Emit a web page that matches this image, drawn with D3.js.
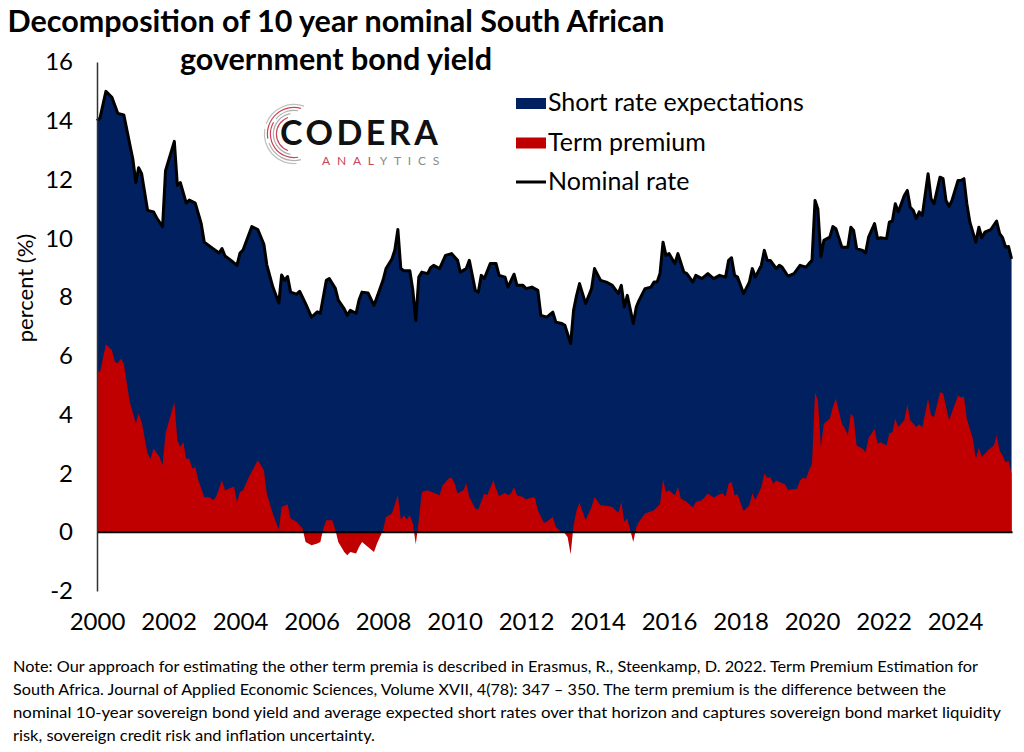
<!DOCTYPE html>
<html>
<head>
<meta charset="utf-8">
<script src="https://cdn.jsdelivr.net/npm/d3@7"></script>
<style>
  body { margin: 0; background: #fff; }
  svg { display: block; font-family: Lato, "Open Sans", sans-serif; }
</style>
</head>
<body>
<svg id="chart" width="1024" height="752"></svg>
<script>
// values (percent)
var yTicks = [-2, 0, 2, 4, 6, 8, 10, 12, 14, 16];
var yearTicks = [2000, 2002, 2004, 2006, 2008, 2010, 2012, 2014, 2016, 2018, 2020, 2022, 2024];
var legendLabels = ['Short rate expectations', 'Term premium', 'Nominal rate'];
var titleLines = ['Decomposition of 10 year nominal South African', 'government bond yield'];
var noteLines = [
  'Note: Our approach for estimating the other term premia is described in Erasmus, R., Steenkamp, D. 2022. Term Premium Estimation for',
  'South Africa. Journal of Applied Economic Sciences, Volume XVII, 4(78): 347 \u2013 350. The term premium is the difference between the',
  'nominal 10-year sovereign bond yield and average expected short rates over that horizon and captures sovereign bond market liquidity',
  'risk, sovereign credit risk and inflation uncertainty.'
];

// nominal 10 year yield
var nominal = [
  ['2000-01', 14.0], ['2000-02', 14.1], ['2000-04', 15.0], ['2000-06', 14.8], ['2000-08', 14.25], ['2000-10', 14.2],
  ['2000-12', 13.2], ['2001-01', 12.7], ['2001-02', 11.9], ['2001-03', 12.4], ['2001-04', 12.2], ['2001-06', 10.95],
  ['2001-08', 10.9], ['2001-09', 10.7], ['2001-11', 10.4], ['2001-12', 12.3], ['2002-03', 13.3], ['2002-04', 11.8],
  ['2002-05', 11.9], ['2002-07', 11.2], ['2002-08', 11.3], ['2002-10', 11.2], ['2002-12', 10.5], ['2003-01', 9.87],
  ['2003-04', 9.65], ['2003-06', 9.5], ['2003-07', 9.65], ['2003-08', 9.4], ['2003-10', 9.25], ['2003-12', 9.08],
  ['2004-01', 9.5], ['2004-02', 9.6], ['2004-05', 10.4], ['2004-07', 10.3], ['2004-09', 9.8], ['2004-10', 9.1],
  ['2004-12', 8.35], ['2005-02', 7.8], ['2005-03', 8.75], ['2005-04', 8.57], ['2005-05', 8.7], ['2005-06', 8.17],
  ['2005-08', 8.1], ['2005-09', 8.2], ['2005-11', 7.78], ['2006-01', 7.32], ['2006-03', 7.5], ['2006-04', 7.45],
  ['2006-06', 8.57], ['2006-07', 8.63], ['2006-09', 8.3], ['2006-10', 7.9], ['2006-12', 7.6], ['2007-01', 7.38],
  ['2007-02', 7.55], ['2007-04', 7.45], ['2007-05', 7.9], ['2007-06', 8.17], ['2007-08', 8.14], ['2007-10', 7.72],
  ['2007-11', 8.0], ['2008-01', 8.57], ['2008-02', 8.97], ['2008-04', 9.3], ['2008-05', 9.6], ['2008-06', 10.3],
  ['2008-07', 8.97], ['2008-08', 8.9], ['2008-10', 8.9], ['2008-11', 8.23], ['2008-12', 7.2], ['2009-01', 8.68],
  ['2009-02', 8.85], ['2009-04', 8.8], ['2009-05', 9.0], ['2009-06', 9.08], ['2009-08', 8.97], ['2009-10', 9.42],
  ['2009-12', 9.48], ['2010-02', 9.25], ['2010-03', 8.85], ['2010-05', 8.97], ['2010-06', 9.25], ['2010-08', 8.23],
  ['2010-09', 8.17], ['2010-10', 8.74], ['2010-11', 8.63], ['2011-01', 9.14], ['2011-03', 9.14], ['2011-04', 8.74],
  ['2011-06', 8.68], ['2011-07', 8.34], ['2011-09', 8.78], ['2011-10', 8.4], ['2011-12', 8.4], ['2012-01', 8.29],
  ['2012-03', 8.34], ['2012-05', 8.23], ['2012-06', 7.38], ['2012-08', 7.32], ['2012-10', 7.49], ['2012-11', 7.15],
  ['2013-01', 7.1], ['2013-02', 7.04], ['2013-04', 6.42], ['2013-05', 7.55], ['2013-06', 8.06], ['2013-07', 8.46],
  ['2013-09', 7.78], ['2013-11', 8.29], ['2013-12', 8.97], ['2014-02', 8.57], ['2014-04', 8.51], ['2014-06', 8.4],
  ['2014-08', 8.12], ['2014-09', 8.4], ['2014-10', 7.66], ['2014-11', 8.06], ['2015-01', 7.1], ['2015-02', 7.66],
  ['2015-03', 7.89], ['2015-05', 8.29], ['2015-07', 8.34], ['2015-08', 8.51], ['2015-09', 8.51], ['2015-10', 8.8],
  ['2015-11', 9.87], ['2015-12', 9.42], ['2016-01', 9.48], ['2016-03', 9.14], ['2016-04', 9.48], ['2016-06', 8.85],
  ['2016-07', 8.8], ['2016-09', 8.51], ['2016-10', 8.74], ['2016-12', 8.63], ['2017-02', 8.8], ['2017-04', 8.63],
  ['2017-06', 8.74], ['2017-08', 8.68], ['2017-09', 9.25], ['2017-10', 9.34], ['2017-11', 8.74], ['2017-12', 8.68],
  ['2018-02', 8.12], ['2018-04', 8.51], ['2018-05', 8.97], ['2018-06', 8.68], ['2018-08', 9.08], ['2018-09', 9.59],
  ['2018-10', 9.25], ['2018-11', 9.25], ['2019-01', 8.97], ['2019-02', 9.08], ['2019-03', 9.02], ['2019-05', 8.71],
  ['2019-07', 8.8], ['2019-09', 9.08], ['2019-11', 9.02], ['2019-12', 9.14], ['2020-01', 9.25], ['2020-02', 11.29],
  ['2020-03', 11.0], ['2020-04', 9.37], ['2020-05', 9.93], ['2020-07', 10.04], ['2020-08', 10.4], ['2020-09', 10.33],
  ['2020-11', 9.7], ['2021-01', 9.7], ['2021-02', 10.38], ['2021-03', 10.27], ['2021-04', 9.65], ['2021-06', 9.59],
  ['2021-07', 9.5], ['2021-08', 10.04], ['2021-10', 10.5], ['2021-11', 9.99], ['2021-12', 10.02], ['2022-02', 9.99],
  ['2022-03', 10.55], ['2022-04', 10.59], ['2022-05', 11.18], ['2022-06', 10.9], ['2022-08', 11.46], ['2022-09', 11.63],
  ['2022-10', 11.06], ['2022-11', 10.95], ['2022-12', 10.67], ['2023-01', 10.9], ['2023-02', 10.78], ['2023-04', 12.2],
  ['2023-05', 11.35], ['2023-06', 11.18], ['2023-08', 12.08], ['2023-09', 12.03], ['2023-10', 11.29], ['2023-11', 11.09],
  ['2023-12', 11.29], ['2024-02', 11.97], ['2024-03', 11.97], ['2024-04', 12.03], ['2024-05', 11.18], ['2024-06', 10.55],
  ['2024-08', 9.87], ['2024-09', 10.38], ['2024-10', 10.02], ['2024-11', 10.21], ['2025-01', 10.3], ['2025-03', 10.59],
  ['2025-04', 10.16], ['2025-05', 10.02], ['2025-06', 9.7], ['2025-07', 9.72], ['2025-08', 9.3]
];

// term premium
var termPremium = [
  ['2000-01', 5.5], ['2000-02', 5.45], ['2000-04', 6.4], ['2000-05', 6.3], ['2000-06', 6.2], ['2000-07', 5.8],
  ['2000-08', 5.75], ['2000-09', 5.9], ['2000-10', 5.74], ['2000-11', 5.06], ['2000-12', 4.43], ['2001-02', 3.7],
  ['2001-03', 4.04], ['2001-04', 3.75], ['2001-06', 2.68], ['2001-07', 2.5], ['2001-08', 2.85], ['2001-10', 2.56],
  ['2001-11', 2.28], ['2001-12', 3.36], ['2002-03', 4.43], ['2002-04', 3.13], ['2002-05', 2.9], ['2002-06', 3.07],
  ['2002-07', 2.5], ['2002-08', 2.5], ['2002-09', 2.17], ['2002-10', 2.22], ['2002-11', 1.77], ['2003-01', 1.2],
  ['2003-03', 1.18], ['2003-04', 1.09], ['2003-05', 1.2], ['2003-07', 1.77], ['2003-08', 1.43], ['2003-11', 1.56],
  ['2003-12', 1.03], ['2004-01', 1.37], ['2004-02', 1.43], ['2004-04', 1.88], ['2004-07', 2.45], ['2004-09', 2.11],
  ['2004-10', 1.32], ['2004-12', 0.64], ['2005-02', 0.08], ['2005-03', 0.86], ['2005-05', 0.95], ['2005-06', 0.47],
  ['2005-08', 0.36], ['2005-10', 0.13], ['2005-11', -0.33], ['2006-01', -0.44], ['2006-03', -0.38], ['2006-04', -0.33],
  ['2006-05', 0.13], ['2006-06', 0.41], ['2006-08', 0.41], ['2006-09', 0.08], ['2006-10', -0.33], ['2006-12', -0.67],
  ['2007-01', -0.78], ['2007-02', -0.67], ['2007-04', -0.72], ['2007-05', -0.5], ['2007-06', -0.33], ['2007-08', -0.5],
  ['2007-10', -0.67], ['2007-11', -0.38], ['2008-01', 0.07], ['2008-02', 0.52], ['2008-04', 0.64], ['2008-06', 1.26],
  ['2008-07', 0.43], ['2008-08', 0.58], ['2008-09', 0.43], ['2008-10', 0.58], ['2008-11', 0.3], ['2008-12', -0.41],
  ['2009-01', 0.41], ['2009-02', 1.37], ['2009-04', 1.43], ['2009-06', 1.34], ['2009-08', 1.26], ['2009-09', 1.6],
  ['2009-11', 1.83], ['2009-12', 1.86], ['2010-01', 1.66], ['2010-02', 1.32], ['2010-04', 1.43], ['2010-05', 1.66],
  ['2010-06', 1.2], ['2010-08', 0.81], ['2010-09', 0.77], ['2010-11', 1.32], ['2010-12', 1.26], ['2011-02', 1.77],
  ['2011-03', 1.49], ['2011-04', 1.22], ['2011-06', 1.34], ['2011-07', 1.26], ['2011-08', 1.32], ['2011-09', 1.54],
  ['2011-10', 1.26], ['2011-12', 1.2], ['2012-01', 1.11], ['2012-03', 1.18], ['2012-04', 1.18], ['2012-05', 0.75],
  ['2012-07', 0.32], ['2012-08', 0.36], ['2012-10', 0.53], ['2012-11', 0.18], ['2012-12', 0.08], ['2013-02', -0.04],
  ['2013-03', -0.16], ['2013-04', -0.75], ['2013-05', 0.24], ['2013-06', 0.75], ['2013-07', 1.0], ['2013-09', 0.41],
  ['2013-11', 0.86], ['2013-12', 1.2], ['2014-02', 0.92], ['2014-04', 0.9], ['2014-06', 0.86], ['2014-08', 0.66],
  ['2014-09', 1.03], ['2014-10', 0.36], ['2014-11', 0.47], ['2015-01', -0.33], ['2015-02', 0.18], ['2015-03', 0.36],
  ['2015-05', 0.64], ['2015-08', 0.75], ['2015-10', 0.95], ['2015-11', 1.79], ['2015-12', 1.37], ['2016-01', 1.43],
  ['2016-03', 1.26], ['2016-04', 1.54], ['2016-05', 1.15], ['2016-07', 1.03], ['2016-09', 0.84], ['2016-10', 1.03],
  ['2016-12', 1.09], ['2017-02', 1.32], ['2017-04', 1.18], ['2017-06', 1.29], ['2017-07', 1.33], ['2017-08', 1.2],
  ['2017-09', 1.65], ['2017-10', 1.72], ['2017-11', 1.25], ['2017-12', 1.29], ['2018-02', 0.72], ['2018-04', 0.91],
  ['2018-05', 1.33], ['2018-06', 1.1], ['2018-08', 1.53], ['2018-09', 2.0], ['2018-10', 1.85], ['2018-11', 1.87],
  ['2018-12', 1.65], ['2019-01', 1.76], ['2019-04', 1.62], ['2019-05', 1.44], ['2019-08', 1.48], ['2019-09', 1.76],
  ['2019-10', 1.85], ['2019-11', 1.82], ['2019-12', 2.1], ['2020-01', 2.33], ['2020-02', 4.76], ['2020-03', 4.48],
  ['2020-04', 2.89], ['2020-05', 3.69], ['2020-07', 3.86], ['2020-08', 4.26], ['2020-09', 4.54], ['2020-11', 3.69],
  ['2020-12', 3.55], ['2021-01', 3.29], ['2021-02', 4.03], ['2021-03', 3.91], ['2021-04', 2.95], ['2021-06', 2.84],
  ['2021-07', 2.72], ['2021-08', 3.21], ['2021-10', 3.52], ['2021-11', 3.01], ['2021-12', 3.06], ['2022-02', 2.95],
  ['2022-03', 3.37], ['2022-04', 3.4], ['2022-05', 3.86], ['2022-06', 3.58], ['2022-08', 3.81], ['2022-09', 4.35],
  ['2022-10', 3.81], ['2022-12', 3.58], ['2023-01', 3.67], ['2023-02', 3.56], ['2023-04', 4.54], ['2023-05', 3.97],
  ['2023-06', 3.92], ['2023-08', 4.76], ['2023-09', 4.73], ['2023-11', 3.82], ['2023-12', 4.08], ['2024-02', 4.65],
  ['2024-03', 4.58], ['2024-04', 4.62], ['2024-05', 3.86], ['2024-07', 3.18], ['2024-08', 2.5], ['2024-09', 2.87],
  ['2024-10', 2.56], ['2024-12', 2.78], ['2025-02', 2.95], ['2025-03', 3.29], ['2025-04', 2.78], ['2025-05', 2.61],
  ['2025-06', 2.38], ['2025-07', 2.42], ['2025-08', 1.99]
];

var colors = {shortRate: '#002060', termPremium: '#c00000', nominal: '#000000'};

var svg = d3.select('#chart');
var parseMonth = d3.timeParse('%Y-%m');

var x = d3.scaleTime()
    .domain([new Date(2000, 0, 1), new Date(2024, 0, 1)])
    .range([97, 955]);
var y = d3.scaleLinear().domain([-2, 16]).range([591, 62]);

// Title
svg.append('g').selectAll('text')
  .data(titleLines)
  .enter().append('text')
  .attr('x', 336)
  .attr('y', function (d, i) { return 32 + i * 38; })
  .attr('text-anchor', 'middle')
  .style('font-size', '30.5px')
  .style('font-weight', 'bold')
  .text(function (d) { return d; });

// Areas: short rate expectations fill up to the nominal rate, term premium on top from zero
var area = d3.area()
    .x(function (d) { return x(parseMonth(d[0])); })
    .y0(y(0))
    .y1(function (d) { return y(d[1]); });

svg.append('path')
  .datum(nominal)
  .attr('fill', colors.shortRate)
  .attr('d', area);

svg.append('path')
  .datum(termPremium)
  .attr('fill', colors.termPremium)
  .attr('d', area);

// Nominal rate line
var line = d3.line()
    .x(function (d) { return x(parseMonth(d[0])); })
    .y(function (d) { return y(d[1]); });

svg.append('path')
  .datum(nominal)
  .attr('fill', 'none')
  .attr('stroke', colors.nominal)
  .attr('stroke-width', 3)
  .attr('stroke-linejoin', 'round')
  .attr('d', line);

// Zero line
var lastDate = parseMonth(nominal[nominal.length - 1][0]);
svg.append('line')
  .attr('x1', x(new Date(2000, 0, 1)))
  .attr('x2', x(lastDate) + 1)
  .attr('y1', y(0))
  .attr('y2', y(0))
  .attr('stroke', '#000')
  .attr('stroke-width', 2);

// Y axis
var yAxis = d3.axisLeft(y)
    .tickValues(yTicks)
    .tickFormat(function (d) { return String(d); })
    .tickSize(0)
    .tickPadding(24);
var yg = svg.append('g')
  .attr('transform', 'translate(97,0)')
  .call(yAxis);
yg.select('.domain').attr('stroke', '#333').attr('stroke-width', 1.5);
yg.selectAll('text')
  .style('font-family', 'Lato, sans-serif')
  .style('font-size', '24px')
  .attr('fill', '#000');

// X axis labels
var xAxis = d3.axisBottom(x)
    .tickValues(yearTicks.map(function (yr) { return new Date(yr, 0, 1); }))
    .tickFormat(d3.timeFormat('%Y'))
    .tickSize(0)
    .tickPadding(13);
var xg = svg.append('g')
  .attr('transform', 'translate(0,600)')
  .call(xAxis);
xg.select('.domain').remove();
xg.selectAll('text')
  .style('font-family', 'Lato, sans-serif')
  .style('font-size', '24px')
  .attr('fill', '#000');

// Y axis title
svg.append('text')
  .attr('transform', 'translate(33,288) rotate(-90)')
  .attr('text-anchor', 'middle')
  .style('font-size', '22px')
  .text('percent (%)');

// Legend
var legend = svg.append('g').attr('transform', 'translate(516,0)');
legendLabels.forEach(function (label, i) {
  var base = 111 + i * 39.5;
  if (i < 2) {
    legend.append('rect')
      .attr('x', 0).attr('y', base - 13)
      .attr('width', 30).attr('height', 11)
      .attr('fill', i === 0 ? colors.shortRate : colors.termPremium);
  } else {
    legend.append('line')
      .attr('x1', 0).attr('x2', 30)
      .attr('y1', base - 8).attr('y2', base - 8)
      .attr('stroke', colors.nominal).attr('stroke-width', 3);
  }
  legend.append('text')
    .attr('x', 32).attr('y', base)
    .style('font-size', '25px')
    .text(label);
});

// Logo
var logo = svg.append('g').attr('transform', 'translate(294,134)');
var rings = [
  {r: 17, a0: 200, a1: 340, c: '#c9455a'},
  {r: 20, a0: 190, a1: 350, c: '#b0b0b0'},
  {r: 23, a0: 170, a1: 300, c: '#c9455a'},
  {r: 23, a0: 310, a1: 370, c: '#b0b0b0'},
  {r: 26, a0: 165, a1: 250, c: '#b0b0b0'},
  {r: 26, a0: 260, a1: 375, c: '#c9455a'},
  {r: 29, a0: 175, a1: 280, c: '#c0c0c0'},
  {r: 29, a0: 290, a1: 380, c: '#c0c0c0'}
];
var ringArc = d3.arc();
rings.forEach(function (g) {
  logo.append('path')
    .attr('fill', g.c)
    .attr('d', ringArc({innerRadius: g.r, outerRadius: g.r + 1.2,
      startAngle: g.a0 * Math.PI / 180, endAngle: g.a1 * Math.PI / 180}));
});
svg.append('text')
  .attr('x', 280).attr('y', 145)
  .style('font-size', '34px')
  .style('font-weight', 'bold')
  .style('letter-spacing', '3.5px')
  .attr('fill', '#111')
  .text('CODERA');
var sub = svg.append('text')
  .attr('x', 322).attr('y', 165)
  .style('font-size', '12px')
  .style('letter-spacing', '6.8px');
sub.append('tspan').attr('fill', '#c9455a').text('ANAL');
sub.append('tspan').attr('fill', '#8a8a8a').text('YTICS');

// Note
var noteWidths = [965, 933, 988, 362];
svg.append('g').selectAll('text')
  .data(noteLines)
  .enter().append('text')
  .attr('x', 13)
  .attr('y', function (d, i) { return 672 + i * 23; })
  .attr('textLength', function (d, i) { return noteWidths[i]; })
  .attr('lengthAdjust', 'spacingAndGlyphs')
  .style('font-size', '16px')
  .text(function (d) { return d; });
</script>
</body>
</html>
